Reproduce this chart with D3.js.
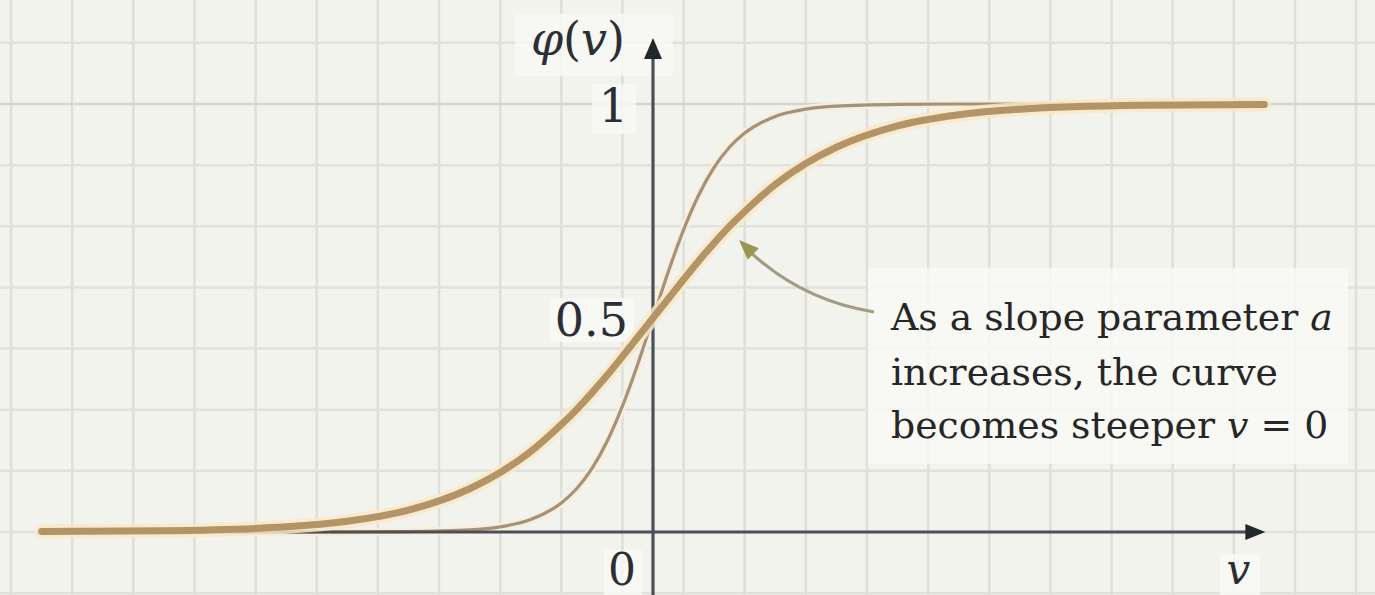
<!DOCTYPE html>
<html>
<head>
<meta charset="utf-8">
<script src="https://cdn.jsdelivr.net/npm/d3@7"></script>
<style>
  html, body { margin: 0; padding: 0; background: #f3f3ee; }
  svg { display: block; }
</style>
</head>
<body>
<svg id="chart" width="1375" height="595"></svg>
<script>
// ---- data ----
const vValues = [-10, -8, -6, -5, -4, -3, -2.5, -2, -1.5, -1.25, -1, -0.75, -0.5, -0.25, 0,
                 0.25, 0.5, 0.75, 1, 1.25, 1.5, 2, 2.5, 3, 4, 5, 6, 8, 10];
// thick curve (smaller slope parameter a)
const phiLowSlope = [0.001, 0.003, 0.012, 0.025, 0.051, 0.101, 0.139, 0.188, 0.251, 0.286, 0.325, 0.366, 0.410, 0.455, 0.5,
                     0.545, 0.590, 0.634, 0.675, 0.714, 0.749, 0.812, 0.861, 0.899, 0.949, 0.975, 0.988, 0.997, 0.999];
// thin curve (larger slope parameter a)
const phiHighSlope = [0, 0, 0, 0, 0.001, 0.005, 0.012, 0.029, 0.068, 0.101, 0.148, 0.212, 0.294, 0.392, 0.5,
                      0.608, 0.706, 0.788, 0.852, 0.899, 0.932, 0.971, 0.988, 0.995, 0.999, 1, 1, 1, 1];
const yTickValues = [0.5, 1];
const yTickLabels = ["0.5", "1"];
const xTickValues = [0];
const xTickLabels = ["0"];
const yAxisTitle = ["φ", "(", "v", ")"];
const xAxisTitle = "v";
const annotationLines = [
  [{t: "As a slope parameter ", i: false}, {t: "a", i: true}],
  [{t: "increases, the curve", i: false}],
  [{t: "becomes steeper ", i: false}, {t: "v", i: true}, {t: " = 0", i: false}]
];

// ---- scales ----
const svg = d3.select("#chart");
const W = 1375, H = 595;
const x = d3.scaleLinear().domain([-10, 10]).range([41.6, 1264.4]);
const y = d3.scaleLinear().domain([0, 1]).range([532, 104]);
const serif = "'DejaVu Serif', serif";

svg.append("rect").attr("width", W).attr("height", H).attr("fill", "#f3f3ee");

// ---- grid ----
const vGrid = d3.range(-10.5, 12, 1);
const pGrid = d3.range(-1, 9).map(k => k / 7);
const grid = svg.append("g");
grid.selectAll("line.v").data(vGrid).join("line")
  .attr("x1", d => x(d)).attr("x2", d => x(d))
  .attr("y1", 0).attr("y2", H)
  .attr("stroke", "#dfdfd9").attr("stroke-width", 2.5);
grid.selectAll("line.h").data(pGrid).join("line")
  .attr("x1", 0).attr("x2", W)
  .attr("y1", d => y(d)).attr("y2", d => y(d))
  .attr("stroke", d => Math.abs(d - 1) < 1e-6 ? "#d6d6d1" : "#e1e1db").attr("stroke-width", 2.5);

// ---- label backgrounds (subtle) ----
const bg = svg.append("g").attr("fill", "#f8f8f5").attr("opacity", 0.85);
bg.append("rect").attr("x", 515).attr("y", 14).attr("width", 158).attr("height", 62);
bg.append("rect").attr("x", 592).attr("y", 84).attr("width", 44).attr("height", 50);
bg.append("rect").attr("x", 550).attr("y", 298).attr("width", 84).attr("height", 44);
bg.append("rect").attr("x", 604).attr("y", 550).attr("width", 38).attr("height", 45);
bg.append("rect").attr("x", 1220).attr("y", 554).attr("width", 40).attr("height", 41);
bg.append("rect").attr("x", 868).attr("y", 268).attr("width", 480).attr("height", 196);

// ---- curves ----
const line = d3.line().x(d => x(d[0])).y(d => y(d[1])).curve(d3.curveMonotoneX);
const thinData = vValues.map((v, i) => [v, phiHighSlope[i]]);
const thickData = vValues.map((v, i) => [v, phiLowSlope[i]]);

// thin curve (under axes)
svg.append("path").attr("d", line(thinData)).attr("fill", "none")
  .attr("stroke", "#f8eedb").attr("stroke-width", 8).attr("stroke-linecap", "round");
svg.append("path").attr("d", line(thinData)).attr("fill", "none")
  .attr("stroke", "#a3937c").attr("stroke-width", 3.2).attr("stroke-linecap", "round");

// ---- axes ----
const axisColor = "#4a5056";
const ax = svg.append("g");
ax.append("line").attr("x1", x(-10)).attr("x2", x(10) - 8).attr("y1", y(0)).attr("y2", y(0))
  .attr("stroke", axisColor).attr("stroke-width", 3.2);
const xa = d3.path();
xa.moveTo(x(10) + 1, y(0)); xa.lineTo(x(10) - 19, y(0) - 8); xa.lineTo(x(10) - 19, y(0) + 8); xa.closePath();
ax.append("path").attr("d", xa.toString()).attr("fill", "#22272b");
ax.append("line").attr("x1", x(0)).attr("x2", x(0)).attr("y1", H).attr("y2", 52)
  .attr("stroke", axisColor).attr("stroke-width", 3.2);
const ya = d3.path();
ya.moveTo(x(0), 38); ya.lineTo(x(0) - 9, 59); ya.lineTo(x(0) + 9, 59); ya.closePath();
ax.append("path").attr("d", ya.toString()).attr("fill", "#22272b");

// thick curve (over axes)
svg.append("path").attr("d", line(thickData)).attr("fill", "none")
  .attr("stroke", "#f7e8c8").attr("stroke-width", 14).attr("stroke-linecap", "round").attr("opacity", 0.85);
svg.append("path").attr("d", line(thickData)).attr("fill", "none")
  .attr("stroke", "#b39466").attr("stroke-width", 7).attr("stroke-linecap", "round");

// ---- tick labels ----
const txt = svg.append("g").attr("font-family", serif).attr("fill", "#2b2f33");
txt.selectAll("text.yt").data(yTickValues).join("text")
  .attr("x", x(0) - 25).attr("y", d => y(d) + 18)
  .attr("text-anchor", "end").attr("font-size", 46)
  .text((d, i) => yTickLabels[i]);
txt.selectAll("text.xt").data(xTickValues).join("text")
  .attr("x", d => x(d) - 31).attr("y", 585)
  .attr("text-anchor", "middle").attr("font-size", 44)
  .text((d, i) => xTickLabels[i]);

// axis titles
const yt = txt.append("text").attr("x", 625).attr("y", 55).attr("text-anchor", "end").attr("font-size", 46);
yAxisTitle.forEach(s => yt.append("tspan").attr("font-style", (s === "(" || s === ")") ? "normal" : "italic").text(s));
txt.append("text").attr("x", x(10) - 26).attr("y", 584).attr("text-anchor", "middle")
  .attr("font-size", 42).attr("font-style", "italic").text(xAxisTitle);

// ---- annotation ----
const arrowTip = [739, 240];
const arrowStart = [874, 312];
const ap = d3.path();
ap.moveTo(arrowStart[0], arrowStart[1]);
ap.quadraticCurveTo(800, 300, arrowTip[0] + 8, arrowTip[1] + 9);
svg.append("path").attr("d", ap.toString()).attr("fill", "none")
  .attr("stroke", "#a29c86").attr("stroke-width", 3.2);
const ang = Math.atan2(arrowTip[1] - 300, arrowTip[0] - 800);
const hl = 20, hw = 8;
const bx = arrowTip[0] - hl * Math.cos(ang), by = arrowTip[1] - hl * Math.sin(ang);
const hp = d3.path();
hp.moveTo(arrowTip[0], arrowTip[1]);
hp.lineTo(bx + hw * Math.sin(ang), by - hw * Math.cos(ang));
hp.lineTo(bx - hw * Math.sin(ang), by + hw * Math.cos(ang));
hp.closePath();
svg.append("path").attr("d", hp.toString()).attr("fill", "#9d9652");

const ann = svg.append("g").attr("font-family", serif).attr("fill", "#262626");
const baselines = [330, 385, 438];
let fs = 38;
const texts = annotationLines.map((parts, li) => {
  const t = ann.append("text").attr("x", 891).attr("y", baselines[li]).attr("font-size", fs);
  parts.forEach(p => t.append("tspan").attr("font-style", p.i ? "italic" : "normal").text(p.t));
  return t;
});
const w0 = texts[0].node().getComputedTextLength();
fs = fs * 442 / w0;
texts.forEach(t => t.attr("font-size", fs));
</script>
</body>
</html>
